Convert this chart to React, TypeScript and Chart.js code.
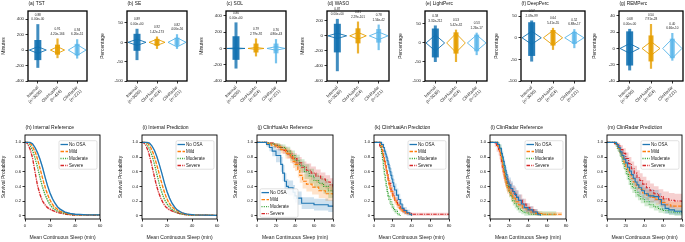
import React, { useEffect, useRef } from "react";
import { Chart, registerables } from "chart.js";
Chart.register(...registerables);

const FONT = "'Liberation Sans', Arial, sans-serif";

// ---------- Top row data ----------
const COHORTS = ["Internal", "ClinHuaiAn", "ClinRadar"];
const COHORT_N = ["(n=3030)", "(n=424)", "(n=221)"];

const TST_TICKS = [-400, -200, 0, 200, 400];
const PCT_TICKS = [-100, -50, 0, 50];
const WASO_TICKS = [-600, -400, -200, 0, 200];
const REM_TICKS = [-40, -20, 0, 20, 40];

// strip extents [min, max], dense core [lo, hi], violin [halfWidth, halfHeight], r, p
const TST_RANGE = [[-230, 335], [-105, 150], [-110, 140]];
const TST_CORE = [[-130, 130], [-60, 70], [-70, 80]];
const TST_VIOLIN = [[0.43, 43], [0.36, 43], [0.45, 70]];
const TST_R = ["0.88", "0.91", "0.94"];
const TST_P = ["0.00e+00", "4.20e-166", "6.26e-51"];

const SE_RANGE = [[-46, 35], [-17, 15], [-17, 21]];
const SE_CORE = [[-22, 22], [-9, 9], [-9, 12]];
const SE_VIOLIN = [[0.45, 8], [0.4, 8], [0.45, 12]];
const SE_R = ["0.89", "0.92", "0.82"];
const SE_P = ["0.00e+00", "1.42e-173", "4.06e-56"];

const SOL_RANGE = [[-247, 320], [-98, 123], [-183, 115]];
const SOL_CORE = [[-140, 150], [-50, 60], [-60, 60]];
const SOL_VIOLIN = [[0.45, 6], [0.4, 12], [0.45, 22]];
const SOL_R = ["0.86", "0.79", "0.76"];
const SOL_P = ["0.00e+00", "2.79e-92", "4.86e-43"];

const WASO_RANGE = [[-470, 225], [-234, 190], [-190, 150]];
const WASO_CORE = [[-220, 160], [-100, 100], [-90, 90]];
const WASO_VIOLIN = [[0.45, 35], [0.4, 45], [0.45, 50]];
const WASO_R = ["0.87", "0.81", "0.78"];
const WASO_P = ["0.00e+00", "2.29e-101", "1.56e-42"];

const LIGHT_RANGE = [[-50, 46], [-50, 35], [-32, 27]];
const LIGHT_CORE = [[-38, 38], [-28, 28], [-22, 22]];
const LIGHT_VIOLIN = [[0.45, 21], [0.45, 25], [0.45, 21]];
const LIGHT_R = ["0.58", "0.53", "0.53"];
const LIGHT_P = ["3.32e-212", "5.42e-32", "1.26e-17"];

const DEEP_RANGE = [[-55, 40], [-28, 23], [-24, 20]];
const DEEP_CORE = [[-42, 36], [-18, 18], [-14, 14]];
const DEEP_VIOLIN = [[0.45, 15], [0.45, 17], [0.45, 14]];
const DEEP_R = ["0.57", "0.64", "0.52"];
const DEEP_P = ["2.09e-99", "5.41e-55", "6.88e-17"];

const REM_RANGE = [[-27, 24], [-25, 30], [-15, 19]];
const REM_CORE = [[-21, 21], [-16, 16], [-12, 12]];
const REM_VIOLIN = [[0.45, 6], [0.42, 8.5], [0.45, 12]];
const REM_R = ["0.68", "0.50", "0.40"];
const REM_P = ["0.00e+00", "7.91e-28", "6.66e-10"];

// ---------- Bottom row data: [minutes, survival, CI half-width] ----------
const GROUPS = ["No OSA", "Mild", "Moderate", "Severe"];

const H_NOOSA = [[0,1,0],[4,1,0],[6,0.98,0.01],[8,0.93,0.02],[10,0.86,0.025],[12,0.77,0.03],[14,0.66,0.03],[16,0.53,0.03],[18,0.41,0.03],[20,0.31,0.03],[22,0.23,0.025],[24,0.17,0.02],[26,0.12,0.02],[28,0.09,0.015],[32,0.05,0.01],[36,0.03,0.01],[40,0.02,0.01],[50,0.01,0.01],[60,0.01,0.01]];
const H_MILD = [[0,1,0],[3,1,0],[5,0.97,0.01],[7,0.91,0.02],[9,0.83,0.025],[11,0.71,0.03],[13,0.58,0.03],[15,0.45,0.03],[17,0.34,0.03],[19,0.25,0.025],[21,0.18,0.02],[23,0.13,0.02],[25,0.1,0.015],[28,0.06,0.01],[32,0.04,0.01],[36,0.02,0.01],[45,0.01,0.005],[60,0.01,0.005]];
const H_MOD = [[0,1,0],[2,1,0],[4,0.96,0.01],[6,0.89,0.02],[8,0.79,0.025],[10,0.66,0.03],[12,0.52,0.03],[14,0.39,0.03],[16,0.29,0.025],[18,0.21,0.02],[20,0.15,0.02],[22,0.11,0.015],[25,0.07,0.01],[28,0.05,0.01],[32,0.03,0.01],[38,0.01,0.005],[60,0.01,0.005]];
const H_SEV = [[0,1,0],[1,1,0],[2,0.98,0.01],[4,0.91,0.02],[6,0.79,0.03],[8,0.6,0.035],[10,0.41,0.035],[12,0.29,0.03],[14,0.2,0.025],[16,0.15,0.02],[18,0.11,0.02],[21,0.08,0.015],[25,0.05,0.01],[30,0.03,0.01],[36,0.01,0.005],[60,0.005,0.005]];

const I_NOOSA = [[0,1,0],[4,1,0],[6,0.99,0.01],[8,0.95,0.015],[10,0.89,0.02],[12,0.8,0.025],[14,0.69,0.03],[16,0.57,0.03],[18,0.44,0.03],[20,0.33,0.03],[22,0.24,0.025],[24,0.17,0.02],[26,0.12,0.02],[28,0.08,0.015],[32,0.04,0.01],[36,0.02,0.01],[42,0.01,0.005],[60,0.005,0.005]];
const I_MILD = [[0,1,0],[3,1,0],[5,0.98,0.01],[7,0.93,0.015],[9,0.85,0.02],[11,0.74,0.025],[13,0.62,0.03],[15,0.49,0.03],[17,0.37,0.03],[19,0.27,0.025],[21,0.19,0.02],[23,0.14,0.02],[26,0.09,0.015],[30,0.05,0.01],[35,0.02,0.01],[42,0.01,0.005],[60,0.005,0.005]];
const I_MOD = [[0,1,0],[2,1,0],[4,0.97,0.01],[6,0.91,0.015],[8,0.82,0.02],[10,0.7,0.025],[12,0.56,0.03],[14,0.42,0.03],[16,0.31,0.025],[18,0.22,0.02],[20,0.16,0.02],[23,0.1,0.015],[26,0.06,0.01],[30,0.03,0.01],[36,0.01,0.005],[60,0.005,0.005]];
const I_SEV = [[0,1,0],[1,1,0],[3,0.96,0.01],[5,0.88,0.02],[7,0.75,0.03],[9,0.6,0.035],[11,0.45,0.035],[13,0.33,0.03],[15,0.24,0.025],[17,0.17,0.02],[19,0.12,0.02],[22,0.08,0.015],[26,0.05,0.01],[30,0.03,0.01],[36,0.01,0.005],[60,0.005,0.005]];

const J_NOOSA = [[0,1,0],[10,0.97,0.03],[13,0.93,0.05],[16,0.88,0.07],[20,0.82,0.09],[25,0.7,0.1],[27,0.58,0.11],[29,0.47,0.11],[31,0.4,0.1],[33,0.38,0.1],[38,0.32,0.1],[40,0.27,0.09],[42,0.24,0.09],[47,0.17,0.08],[60,0.15,0.08],[75,0.13,0.08],[80,0.13,0.08]];
const J_MILD = [[0,1,0],[10,0.98,0.02],[15,0.96,0.03],[20,0.94,0.04],[25,0.9,0.05],[30,0.85,0.07],[35,0.8,0.08],[38,0.74,0.09],[40,0.7,0.09],[43,0.62,0.1],[45,0.55,0.1],[48,0.47,0.1],[52,0.43,0.1],[58,0.39,0.1],[65,0.34,0.1],[72,0.3,0.1],[80,0.26,0.1]];
const J_MOD = [[0,1,0],[12,0.98,0.02],[18,0.96,0.03],[24,0.93,0.04],[30,0.88,0.06],[35,0.82,0.07],[40,0.75,0.08],[45,0.68,0.09],[50,0.6,0.1],[55,0.54,0.1],[60,0.48,0.1],[65,0.44,0.1],[70,0.4,0.1],[75,0.34,0.1],[80,0.28,0.1]];
const J_SEV = [[0,1,0],[12,0.99,0.01],[18,0.96,0.03],[22,0.93,0.04],[27,0.89,0.05],[32,0.84,0.06],[37,0.78,0.07],[42,0.72,0.08],[47,0.66,0.08],[52,0.62,0.09],[57,0.58,0.09],[62,0.54,0.09],[67,0.5,0.09],[72,0.46,0.09],[77,0.42,0.09],[80,0.38,0.09]];

const K_NOOSA = [[0,1,0],[8,0.97,0.03],[10,0.93,0.05],[11,0.88,0.06],[12,0.84,0.07],[13,0.8,0.08],[14,0.75,0.08],[15,0.7,0.09],[16,0.65,0.09],[17,0.6,0.09],[18,0.55,0.1],[19,0.5,0.1],[20,0.45,0.1],[21,0.4,0.1],[22,0.35,0.09],[24,0.28,0.09],[26,0.22,0.08],[28,0.16,0.07],[30,0.1,0.06],[32,0.07,0.05],[35,0.04,0.04],[38,0.02,0.03],[40,0,0]];
const K_MILD = [[0,1,0],[7,0.95,0.03],[9,0.88,0.04],[10,0.82,0.05],[11,0.76,0.05],[12,0.7,0.06],[13,0.62,0.06],[14,0.55,0.06],[15,0.48,0.06],[16,0.42,0.06],[17,0.37,0.06],[18,0.33,0.06],[20,0.26,0.05],[22,0.2,0.05],[24,0.15,0.04],[27,0.1,0.04],[30,0.06,0.03],[34,0.03,0.02],[38,0.02,0.02],[40,0,0]];
const K_MOD = [[0,1,0],[7,0.93,0.04],[8,0.85,0.05],[9,0.75,0.06],[10,0.65,0.07],[11,0.56,0.07],[12,0.47,0.07],[13,0.4,0.07],[14,0.33,0.07],[15,0.27,0.06],[16,0.22,0.06],[18,0.15,0.05],[20,0.1,0.04],[22,0.06,0.03],[25,0.02,0.02],[28,0,0]];
const K_SEV = [[0,1,0],[6,0.95,0.02],[8,0.9,0.03],[9,0.85,0.04],[10,0.8,0.04],[11,0.74,0.05],[12,0.68,0.05],[13,0.62,0.05],[14,0.56,0.05],[15,0.5,0.05],[16,0.44,0.05],[18,0.35,0.05],[20,0.28,0.05],[22,0.21,0.04],[25,0.14,0.04],[28,0.09,0.03],[32,0.05,0.03],[36,0.03,0.02],[40,0.02,0.02],[80,0.02,0.02]];

const L_NOOSA = [[0,1,0],[8,0.97,0.03],[10,0.92,0.05],[12,0.85,0.07],[13,0.8,0.08],[14,0.74,0.08],[15,0.68,0.09],[16,0.62,0.09],[17,0.56,0.1],[18,0.5,0.1],[19,0.46,0.1],[20,0.42,0.1],[22,0.37,0.1],[24,0.33,0.09],[26,0.29,0.09],[28,0.25,0.09],[30,0.21,0.08],[33,0.16,0.07],[36,0.11,0.06],[40,0.08,0.05],[45,0.05,0.04],[50,0.02,0.03],[53,0,0]];
const L_MILD = [[0,1,0],[8,0.95,0.03],[10,0.88,0.05],[11,0.82,0.06],[12,0.76,0.07],[13,0.68,0.07],[14,0.6,0.08],[15,0.53,0.08],[16,0.47,0.08],[17,0.42,0.08],[18,0.38,0.08],[20,0.33,0.07],[22,0.28,0.07],[24,0.24,0.07],[27,0.19,0.06],[30,0.15,0.06],[34,0.11,0.05],[38,0.08,0.05],[42,0.05,0.04],[48,0.03,0.03],[55,0.02,0.03],[65,0.02,0.03],[76,0.01,0.03]];
const L_MOD = [[0,1,0],[8,0.97,0.03],[10,0.92,0.05],[12,0.84,0.06],[13,0.76,0.07],[14,0.68,0.07],[15,0.6,0.08],[16,0.52,0.08],[17,0.45,0.08],[18,0.4,0.08],[20,0.32,0.07],[22,0.26,0.07],[24,0.2,0.06],[26,0.16,0.06],[28,0.12,0.05],[30,0.09,0.05],[33,0.06,0.04],[36,0.04,0.04],[40,0.02,0.04],[45,0.02,0.04],[70,0.02,0.04]];
const L_SEV = [[0,1,0],[5,0.98,0.04],[7,0.94,0.07],[9,0.9,0.08],[10,0.86,0.09],[11,0.8,0.1],[12,0.73,0.1],[13,0.66,0.1],[14,0.6,0.1],[15,0.55,0.1],[16,0.5,0.1],[18,0.44,0.1],[20,0.39,0.1],[22,0.35,0.1],[24,0.31,0.09],[27,0.26,0.09],[30,0.21,0.08],[34,0.16,0.07],[38,0.11,0.06],[42,0.08,0.05],[46,0.05,0.04],[50,0.03,0.03],[52,0.02,0.03]];

const M_NOOSA = [[0,1,0],[10,0.97,0.03],[12,0.93,0.05],[14,0.87,0.07],[16,0.82,0.08],[18,0.77,0.09],[20,0.72,0.09],[22,0.66,0.1],[24,0.61,0.1],[26,0.56,0.1],[28,0.51,0.1],[30,0.46,0.1],[32,0.42,0.1],[34,0.38,0.1],[37,0.34,0.1],[40,0.3,0.09],[44,0.27,0.09],[50,0.26,0.09],[55,0.22,0.09],[58,0.15,0.08],[62,0.1,0.07],[66,0.08,0.06],[72,0.06,0.05],[80,0.04,0.05]];
const M_MILD = [[0,1,0],[10,0.97,0.02],[12,0.92,0.04],[14,0.86,0.05],[16,0.8,0.06],[18,0.73,0.06],[20,0.67,0.07],[22,0.61,0.07],[24,0.56,0.07],[26,0.51,0.07],[28,0.46,0.07],[31,0.41,0.07],[34,0.36,0.07],[38,0.31,0.07],[42,0.28,0.07],[46,0.25,0.07],[52,0.22,0.07],[57,0.18,0.06],[62,0.15,0.06],[68,0.13,0.06],[80,0.12,0.06]];
const M_MOD = [[0,1,0],[9,0.97,0.03],[11,0.92,0.04],[13,0.86,0.05],[15,0.79,0.06],[17,0.71,0.07],[19,0.63,0.07],[21,0.56,0.07],[23,0.49,0.07],[25,0.43,0.07],[27,0.38,0.07],[30,0.32,0.07],[33,0.27,0.06],[36,0.23,0.06],[40,0.19,0.06],[45,0.15,0.05],[50,0.12,0.05],[55,0.09,0.05],[60,0.07,0.04],[66,0.05,0.04],[72,0.04,0.04],[80,0.03,0.04]];
const M_SEV = [[0,1,0],[8,0.98,0.02],[11,0.95,0.04],[14,0.9,0.06],[17,0.85,0.07],[20,0.78,0.08],[23,0.71,0.09],[26,0.64,0.1],[29,0.58,0.1],[32,0.52,0.1],[35,0.48,0.1],[38,0.43,0.1],[42,0.38,0.1],[46,0.34,0.1],[50,0.3,0.1],[55,0.26,0.1],[60,0.23,0.1],[66,0.21,0.1],[72,0.2,0.1],[80,0.18,0.1]];

const KM_TICKS_60 = [0, 20, 40, 60];
const KM_TICKS_80 = [0, 20, 40, 60, 80];
const SURV_TICKS = [0, 0.2, 0.4, 0.6, 0.8, 1.0];

// ---------- styles / layout ----------
const COHORT_COLORS = ["#1170b0", "#e69f00", "#56b4e9"];
const GROUP_COLORS = ["#1f77b4", "#ff7f0e", "#2ca02c", "#d62728"];
const GROUP_BANDS = ["rgba(31,119,180,0.22)", "rgba(255,127,14,0.22)", "rgba(44,160,44,0.22)", "rgba(214,39,40,0.22)"];
const GROUP_DASH = [[], [3.5, 1.5], [1, 1.3], [3.5, 1.2, 1, 1.2]];

const TOP_PANELS = [
  { title: "(a) TST", unit: "Minutes", min: -400, max: 505, ticks: TST_TICKS, range: TST_RANGE, core: TST_CORE, violin: TST_VIOLIN, r: TST_R, p: TST_P },
  { title: "(b) SE", unit: "Percentage", min: -100, max: 81, ticks: PCT_TICKS, range: SE_RANGE, core: SE_CORE, violin: SE_VIOLIN, r: SE_R, p: SE_P },
  { title: "(c) SOL", unit: "Minutes", min: -400, max: 460, ticks: TST_TICKS, range: SOL_RANGE, core: SOL_CORE, violin: SOL_VIOLIN, r: SOL_R, p: SOL_P },
  { title: "(d) WASO", unit: "Minutes", min: -600, max: 330, ticks: WASO_TICKS, range: WASO_RANGE, core: WASO_CORE, violin: WASO_VIOLIN, r: WASO_R, p: WASO_P },
  { title: "(e) LightPerc", unit: "Percentage", min: -100, max: 84, ticks: PCT_TICKS, range: LIGHT_RANGE, core: LIGHT_CORE, violin: LIGHT_VIOLIN, r: LIGHT_R, p: LIGHT_P },
  { title: "(f) DeepPerc", unit: "Percentage", min: -100, max: 62, ticks: PCT_TICKS, range: DEEP_RANGE, core: DEEP_CORE, violin: DEEP_VIOLIN, r: DEEP_R, p: DEEP_P },
  { title: "(g) REMPerc", unit: "Percentage", min: -40, max: 46, ticks: REM_TICKS, range: REM_RANGE, core: REM_CORE, violin: REM_VIOLIN, r: REM_R, p: REM_P },
];
const TOP_L = [28, 127, 226, 327, 425, 521, 619];
const TOP_W = [59, 60, 60, 62, 62, 64, 64];

const BOT_PANELS = [
  { title: "(h) Internal Reference", curves: [H_NOOSA, H_MILD, H_MOD, H_SEV], xmax: 60, xticks: KM_TICKS_60, stepped: false, legend: "tr" },
  { title: "(i) Internal Prediction", curves: [I_NOOSA, I_MILD, I_MOD, I_SEV], xmax: 60, xticks: KM_TICKS_60, stepped: false, legend: "tr" },
  { title: "(j) ClinHuaiAn Reference", curves: [J_NOOSA, J_MILD, J_MOD, J_SEV], xmax: 80, xticks: KM_TICKS_80, stepped: true, legend: "bl" },
  { title: "(k) ClinHuaiAn Prediction", curves: [K_NOOSA, K_MILD, K_MOD, K_SEV], xmax: 80, xticks: KM_TICKS_80, stepped: true, legend: "tr" },
  { title: "(l) ClinRadar Reference", curves: [L_NOOSA, L_MILD, L_MOD, L_SEV], xmax: 80, xticks: KM_TICKS_80, stepped: true, legend: "tr" },
  { title: "(m) ClinRadar Prediction", curves: [M_NOOSA, M_MILD, M_MOD, M_SEV], xmax: 80, xticks: KM_TICKS_80, stepped: true, legend: "tr" },
];
const BOT_L = [25, 142, 257, 374, 490, 607];
const BOT_W = [75, 75, 76, 75, 76, 75];

function alpha(hex: string, a: number) {
  const n = parseInt(hex.slice(1), 16);
  return `rgba(${(n >> 16) & 255},${(n >> 8) & 255},${n & 255},${a})`;
}

function axisCommon(fontSize: number) {
  return {
    grid: { display: true, drawOnChartArea: false, drawTicks: true, tickLength: 2.5, color: "#000", lineWidth: 0.8 },
    border: { display: false },
    ticks: { font: { size: fontSize, family: FONT }, color: "#222", padding: 1.5, autoSkip: false },
  };
}

function decoPlugin(title: string, frameW: number, titleSize: number, extra?: (chart: any) => void) {
  return {
    id: "deco",
    afterDatasetsDraw(chart: any) {
      const { ctx, chartArea: a } = chart;
      ctx.save();
      ctx.strokeStyle = "#000";
      ctx.lineWidth = frameW;
      ctx.setLineDash([]);
      ctx.strokeRect(a.left, a.top, a.right - a.left, a.bottom - a.top);
      ctx.fillStyle = "#111";
      ctx.font = `${titleSize}px ${FONT}`;
      ctx.textBaseline = "middle";
      ctx.textAlign = "left";
      ctx.fillText(title, a.left + 0.5, a.top - 7.2);
      if (extra) extra(chart);
      ctx.restore();
    },
  };
}

function topConfig(p: any, yAxisW: number, xAxisH: number, padTop: number) {
  const datasets: any[] = [];
  for (let i = 0; i < 3; i++) {
    const col = COHORT_COLORS[i];
    const [vw, vh] = p.violin[i];
    datasets.push({
      data: [{ x: i - vw, y: 0 }, { x: i, y: vh }, { x: i + vw, y: 0 }, { x: i, y: -vh }, { x: i - vw, y: 0 }],
      borderColor: col, borderWidth: 0.9, pointRadius: 0, fill: false, order: 1, borderJoinStyle: "miter",
    });
    datasets.push({
      data: [{ x: i, y: p.core[i][0] }, { x: i, y: p.core[i][1] }],
      borderColor: alpha(col, i === 2 ? 0.75 : 0.9), borderWidth: i === 0 ? 7 : 5, pointRadius: 0, fill: false, order: 2, borderCapStyle: "butt",
    });
    datasets.push({
      data: [{ x: i, y: p.range[i][0] }, { x: i, y: p.range[i][1] }],
      borderColor: alpha(col, 0.8), borderWidth: i === 0 ? 3 : 2.2, pointRadius: 0, fill: false, order: 3, borderCapStyle: "butt",
    });
  }
  const annot = (chart: any) => {
    const { ctx } = chart;
    const xs = chart.scales.x, ys = chart.scales.y;
    ctx.font = `3.1px ${FONT}`;
    ctx.textAlign = "center";
    ctx.fillStyle = "#222";
    for (let i = 0; i < 3; i++) {
      const px = xs.getPixelForValue(i);
      const top = ys.getPixelForValue(p.range[i][1]);
      ctx.fillText(p.r[i], px, top - 9.3);
      ctx.fillText(p.p[i], px, top - 4.6);
    }
  };
  const xc = axisCommon(4.3);
  const yc = axisCommon(4.3);
  return {
    type: "line",
    data: { datasets },
    plugins: [decoPlugin(p.title, 1.3, 4.8, annot)],
    options: {
      animation: false, responsive: false, devicePixelRatio: 1, events: [],
      layout: { padding: { top: padTop, right: 3, left: 0, bottom: 0 } },
      plugins: { legend: { display: false }, tooltip: { enabled: false }, title: { display: false } },
      scales: {
        x: {
          type: "linear", min: -0.5, max: 2.5, ...xc,
          ticks: { ...xc.ticks, minRotation: 45, maxRotation: 45, callback: (v: number) => [COHORTS[v], COHORT_N[v]] },
          afterBuildTicks: (s: any) => { s.ticks = [0, 1, 2].map((v) => ({ value: v })); },
          afterFit: (s: any) => { s.height = xAxisH; s.paddingLeft = 0; s.paddingRight = 0; },
        },
        y: {
          type: "linear", min: p.min, max: p.max, ...yc,
          ticks: { ...yc.ticks, callback: (v: number) => String(v) },
          title: { display: true, text: p.unit, font: { size: 5, family: FONT }, color: "#222", padding: { top: 0.5, bottom: 0.5 } },
          afterBuildTicks: (s: any) => { s.ticks = p.ticks.map((v: number) => ({ value: v })); },
          afterFit: (s: any) => { s.width = yAxisW; s.paddingTop = 0; s.paddingBottom = 0; },
        },
      },
    },
  };
}

function botConfig(p: any, yAxisW: number, xAxisH: number, padTop: number) {
  const datasets: any[] = [];
  const stepped = p.stepped ? "before" : false;
  p.curves.forEach((c: number[][], g: number) => {
    datasets.push({
      data: c.map((q) => ({ x: q[0], y: Math.min(1, q[1] + q[2]) })),
      borderColor: "transparent", borderWidth: 0, pointRadius: 0, fill: "+1", backgroundColor: GROUP_BANDS[g], stepped, order: 3,
    });
    datasets.push({
      data: c.map((q) => ({ x: q[0], y: Math.max(0, q[1] - q[2]) })),
      borderColor: "transparent", borderWidth: 0, pointRadius: 0, fill: false, stepped, order: 3,
    });
  });
  p.curves.forEach((c: number[][], g: number) => {
    datasets.push({
      data: c.map((q) => ({ x: q[0], y: q[1] })),
      borderColor: GROUP_COLORS[g], borderWidth: p.stepped ? 1.1 : 1.3, borderDash: GROUP_DASH[g],
      pointRadius: 0, fill: false, stepped, order: 1, tension: 0,
    });
  });
  const legend = (chart: any) => {
    const { ctx, chartArea: a } = chart;
    const bw = 38, bh = 28.5;
    const x0 = p.legend === "tr" ? a.right - 3 - bw : a.left + 3;
    const y0 = p.legend === "tr" ? a.top + 5.7 : a.bottom - 1.7 - bh;
    ctx.beginPath();
    if (ctx.roundRect) ctx.roundRect(x0, y0, bw, bh, 1.5); else ctx.rect(x0, y0, bw, bh);
    ctx.fillStyle = "rgba(255,255,255,0.85)";
    ctx.fill();
    ctx.strokeStyle = "#cccccc";
    ctx.lineWidth = 0.6;
    ctx.stroke();
    ctx.font = `4.5px ${FONT}`;
    ctx.textAlign = "left";
    ctx.textBaseline = "middle";
    GROUPS.forEach((name, g) => {
      const y = y0 + 3.8 + g * 7;
      ctx.beginPath();
      ctx.setLineDash(GROUP_DASH[g]);
      ctx.strokeStyle = GROUP_COLORS[g];
      ctx.lineWidth = 1.3;
      ctx.moveTo(x0 + 1.5, y);
      ctx.lineTo(x0 + 9, y);
      ctx.stroke();
      ctx.setLineDash([]);
      ctx.fillStyle = "#222";
      ctx.fillText(name, x0 + 10, y);
    });
  };
  const xc = axisCommon(4.2);
  const yc = axisCommon(4.2);
  return {
    type: "line",
    data: { datasets },
    plugins: [decoPlugin(p.title, 0.9, 5, legend)],
    options: {
      animation: false, responsive: false, devicePixelRatio: 1, events: [],
      layout: { padding: { top: padTop, right: 3, left: 0, bottom: 0 } },
      plugins: { legend: { display: false }, tooltip: { enabled: false }, title: { display: false } },
      scales: {
        x: {
          type: "linear", min: 0, max: p.xmax, ...xc,
          ticks: { ...xc.ticks, maxRotation: 0, minRotation: 0, callback: (v: number) => String(v) },
          title: { display: true, text: "Mean Continuous Sleep (min)", font: { size: 5, family: FONT }, color: "#222", padding: { top: 1, bottom: 1 } },
          afterBuildTicks: (s: any) => { s.ticks = p.xticks.map((v: number) => ({ value: v })); },
          afterFit: (s: any) => { s.height = xAxisH; s.paddingLeft = 0; s.paddingRight = 0; },
        },
        y: {
          type: "linear", min: -0.045, max: 1.1, ...yc,
          ticks: { ...yc.ticks, callback: (v: number) => (v === 0 ? "0" : v.toFixed(1)) },
          title: { display: true, text: "Survival Probability", font: { size: 5, family: FONT }, color: "#222", padding: { top: 1, bottom: 1 } },
          afterBuildTicks: (s: any) => { s.ticks = SURV_TICKS.map((v: number) => ({ value: v })); },
          afterFit: (s: any) => { s.width = yAxisW; s.paddingTop = 0; s.paddingBottom = 0; },
        },
      },
    },
  };
}

function Panel({ left, top, width, height, make }: any) {
  const ref = useRef<HTMLCanvasElement>(null);
  useEffect(() => {
    const chart = new Chart(ref.current as HTMLCanvasElement, make());
    return () => chart.destroy();
  }, []);
  return (
    <canvas
      ref={ref}
      width={width}
      height={height}
      style={{ position: "absolute", left, top, width, height, display: "block" }}
    />
  );
}

export default function App() {
  const TOP_H = 120, TOP_BOX_TOP = 11, TOP_BOX_BOTTOM = 81, TOP_YW = 28;
  const BOT_Y = 120, BOT_H = 122, BOT_BOX_TOP = 135, BOT_BOX_BOTTOM = 219, BOT_YW = 25;
  return (
    <div style={{ position: "fixed", left: 0, top: 0, width: 685, height: 242, background: "#fff", overflow: "hidden" }}>
      {TOP_PANELS.map((p, i) => (
        <Panel
          key={"t" + i}
          left={TOP_L[i] - TOP_YW}
          top={0}
          width={TOP_W[i] + TOP_YW + 3}
          height={TOP_H}
          make={() => topConfig(p, TOP_YW, TOP_H - TOP_BOX_BOTTOM, TOP_BOX_TOP)}
        />
      ))}
      {BOT_PANELS.map((p, i) => (
        <Panel
          key={"b" + i}
          left={BOT_L[i] - BOT_YW}
          top={BOT_Y}
          width={BOT_W[i] + BOT_YW + 3}
          height={BOT_H}
          make={() => botConfig(p, BOT_YW, BOT_Y + BOT_H - BOT_BOX_BOTTOM, BOT_BOX_TOP - BOT_Y)}
        />
      ))}
    </div>
  );
}
